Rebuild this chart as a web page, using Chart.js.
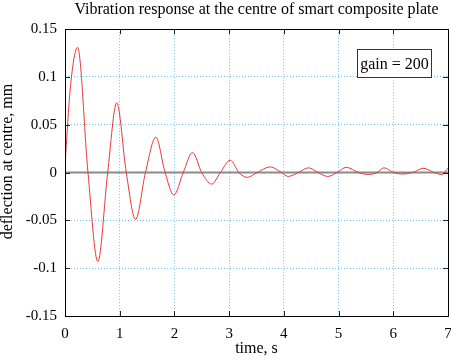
<!DOCTYPE html>
<html>
<head>
<meta charset="utf-8">
<script src="https://cdn.jsdelivr.net/npm/chart.js@4"></script>
<style>
html,body{margin:0;padding:0;background:#fff;}
#wrap{width:451px;height:364px;}
</style>
</head>
<body>
<div id="wrap"><canvas id="c" width="451" height="364"></canvas></div>
<script>
// time (s) and deflection at centre (mm)
const timeS = [0, 0.1, 0.23, 0.42, 0.60, 0.78, 0.945, 1.12, 1.29, 1.47, 1.66, 1.83, 1.99, 2.16, 2.33, 2.50, 2.68, 2.84, 3.02, 3.18, 3.33, 3.51, 3.75, 3.96, 4.08, 4.26, 4.45, 4.63, 4.80, 4.97, 5.14, 5.37, 5.55, 5.70, 5.83, 6.01, 6.18, 6.35, 6.55, 6.75, 6.89, 7.0];
const deflection = [0.008, 0.09, 0.131, 0, -0.093, 0, 0.073, 0, -0.049, 0, 0.037, 0, -0.0235, 0, 0.021, 0, -0.012, 0, 0.013, 0, -0.005, 0, 0.006, 0, -0.004, 0, 0.005, 0, -0.004, 0, 0.0055, 0, -0.002, 0, 0.005, 0, -0.0015, 0, 0.0045, 0, -0.002, 0.005];
const zeroLineT = [0, 7];
const zeroLineY = [0, 0];
const xTicks = [0, 1, 2, 3, 4, 5, 6, 7];
const yTicks = [-0.15, -0.1, -0.05, 0, 0.05, 0.1, 0.15];
const chartTitle = 'Vibration response at the centre of smart composite plate';
const xLabel = 'time, s';
const yLabel = 'deflection at centre, mm';
const annotationText = 'gain = 200';

const SERIF = "'Liberation Serif', 'DejaVu Serif', serif";
Chart.defaults.font.family = SERIF;
Chart.defaults.color = '#000';

const frame = {
  id: 'frame',
  afterDatasetsDraw(chart) {
    const {ctx, chartArea: a, scales: {x, y}} = chart;
    ctx.save();
    ctx.strokeStyle = '#222';
    ctx.lineWidth = 1;
    ctx.beginPath();
    const tl = 5;
    xTicks.forEach(v => {
      const px = Math.round(x.getPixelForValue(v)) + 0.5;
      ctx.moveTo(px, a.bottom); ctx.lineTo(px, a.bottom - tl);
      ctx.moveTo(px, a.top); ctx.lineTo(px, a.top + tl);
    });
    yTicks.forEach(v => {
      const py = Math.round(y.getPixelForValue(v)) + 0.5;
      ctx.moveTo(a.left, py); ctx.lineTo(a.left + tl, py);
      ctx.moveTo(a.right, py); ctx.lineTo(a.right - tl, py);
    });
    ctx.stroke();
    ctx.strokeStyle = '#000';
    ctx.strokeRect(Math.round(a.left) + 0.5, Math.round(a.top) + 0.5, Math.round(a.right - a.left), Math.round(a.bottom - a.top));
    // annotation box
    const bw = 74, bh = 28;
    const bx = Math.round(a.right - 91) + 0.5, by = Math.round(a.top + 20) + 0.5;
    ctx.fillStyle = '#fff';
    ctx.fillRect(bx, by, bw, bh);
    ctx.strokeStyle = '#333';
    ctx.strokeRect(bx, by, bw, bh);
    ctx.fillStyle = '#000';
    ctx.font = '16px ' + SERIF;
    ctx.textAlign = 'center';
    ctx.textBaseline = 'middle';
    ctx.fillText(annotationText, bx + bw / 2, by + bh / 2 + 1);
    // y axis label
    ctx.save();
    ctx.translate(8, (a.top + a.bottom) / 2 - 11);
    ctx.rotate(-Math.PI / 2);
    ctx.font = '16px ' + SERIF;
    ctx.fillText(yLabel, 0, 0);
    ctx.restore();
    ctx.restore();
  }
};

new Chart(document.getElementById('c'), {
  type: 'line',
  data: {
    datasets: [
      {
        data: timeS.map((t, i) => ({x: t, y: deflection[i]})),
        borderColor: '#e8393a',
        borderWidth: 1,
        pointRadius: 0,
        cubicInterpolationMode: 'monotone',
        fill: false,
        order: 0
      },
      {
        data: zeroLineT.map((t, i) => ({x: t, y: zeroLineY[i]})),
        borderColor: '#8a8a8a',
        borderWidth: 2,
        pointRadius: 0,
        fill: false,
        order: 1
      }
    ]
  },
  options: {
    responsive: false,
    animation: false,
    layout: {padding: {left: 0, right: 3, top: 0, bottom: 0}},
    plugins: {
      legend: {display: false},
      tooltip: {enabled: false},
      title: {
        display: true,
        fullSize: false,
        text: chartTitle,
        font: {family: SERIF, size: 16, weight: 'normal'},
        color: '#000',
        padding: {top: 0, bottom: 10}
      }
    },
    scales: {
      x: {
        type: 'linear',
        min: 0, max: 7,
        afterFit(s) { s.height = 48; s.paddingLeft = 0; s.paddingRight = 0; },
        afterBuildTicks(s) { s.ticks = xTicks.map(v => ({value: v})); },
        ticks: {font: {size: 15}, padding: 9, maxRotation: 0, callback: v => String(v)},
        grid: {color: '#6cc3ec', lineWidth: 1, drawTicks: false},
        border: {display: false, dash: [1, 2]},
        title: {display: true, text: xLabel, font: {size: 16}, padding: {top: 0, bottom: 6}}
      },
      y: {
        type: 'linear',
        min: -0.15, max: 0.15,
        afterFit(s) { s.width = 65; s.paddingTop = 0; s.paddingBottom = 0; },
        afterBuildTicks(s) { s.ticks = yTicks.map(v => ({value: v})); },
        ticks: {font: {size: 15}, padding: 8, callback: v => String(Number(v.toFixed(3)))},
        grid: {color: '#6cc3ec', lineWidth: 1, drawTicks: false},
        border: {display: false, dash: [1, 2]}
      }
    }
  },
  plugins: [frame]
});
</script>
</body>
</html>
